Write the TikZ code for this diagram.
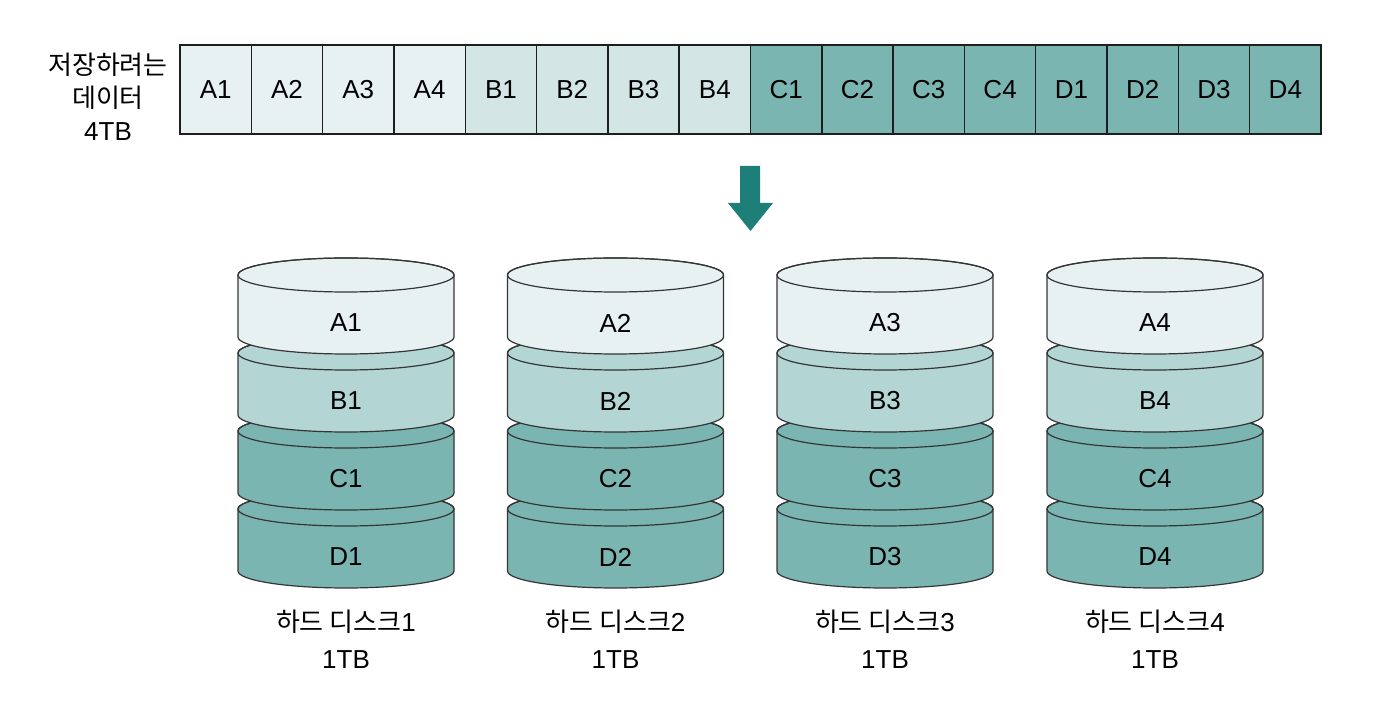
\documentclass[tikz,border=0pt]{standalone}
\usepackage{fontspec}
\setmainfont{Liberation Sans}
\newfontfamily\kr{Noto Sans CJK KR}
\definecolor{cA}{HTML}{E8F1F2}
\definecolor{cBbar}{HTML}{D3E6E5}
\definecolor{cBdisk}{HTML}{B3D5D3}
\definecolor{cC}{HTML}{7BB5B2}
\definecolor{cArrow}{HTML}{1E7F79}
\definecolor{edge}{HTML}{1E1E1E}
\tikzset{
  cell/.style={draw=edge, line width=1.4pt, minimum width=71.3125pt, minimum height=89pt, inner sep=0pt, font=\fontsize{26}{30}\selectfont},
  diskline/.style={draw=edge!90, line width=1.2pt},
  disklabel/.style={font=\fontsize{26}{30}\selectfont, inner sep=0pt},
  caption/.style={font=\fontsize{26}{30}\selectfont, inner sep=0pt},
}
\newcommand\diskunit[5]{% cx, ytop(image), colour, label, name
  \pgfmathsetmacro\Yt{720-#2}
  \filldraw[diskline, fill=#3] (#1-108,\Yt) -- (#1-108,\Yt-62)
     arc[start angle=180, end angle=360, x radius=108, y radius=17]
     -- (#1+108,\Yt) arc[start angle=0, end angle=180, x radius=108, y radius=17] -- cycle;
  \draw[diskline] (#1,\Yt) ellipse[x radius=108, y radius=17];
  \node[disklabel] (#5) at (#1,\Yt-48) {#4};
}
\begin{document}
\begin{tikzpicture}[x=1pt,y=1pt]
\useasboundingbox (0,0) rectangle (1388,720);
% top bar
\foreach \lab/\col [count=\i from 0] in {A1/cA,A2/cA,A3/cA,A4/cA,B1/cBbar,B2/cBbar,B3/cBbar,B4/cBbar,C1/cC,C2/cC,C3/cC,C4/cC,D1/cC,D2/cC,D3/cC,D4/cC}
  \node[cell, fill=\col] (bar\lab) at ({180+71.3125*(\i+0.5)}, 630.5) {\lab};
% left label
\node[caption, align=center] (datalabel) at (108, 623) {{\kr 저장하려는}\\[3pt]{\kr 데이터}\\[3pt]4TB};
% arrow
\fill[cArrow] (740,554) -- (760,554) -- (760,517) -- (773,517) -- (750.5,489) -- (728,517) -- (740,517) -- cycle;
% disks
\foreach \cx/\n in {346/1,615.5/2,885/3,1155/4}{
  \diskunit{\cx}{509}{cC}{D\n}{d\n}
  \diskunit{\cx}{431}{cC}{C\n}{c\n}
  \diskunit{\cx}{353}{cBdisk}{B\n}{b\n}
  \diskunit{\cx}{275}{cA}{A\n}{a\n}
  \node[caption] (hd\n) at (\cx, 98) {{\kr 하드 디스크}\n};
  \node[caption] (tb\n) at (\cx, 60) {1TB};
}
\end{tikzpicture}
\end{document}
